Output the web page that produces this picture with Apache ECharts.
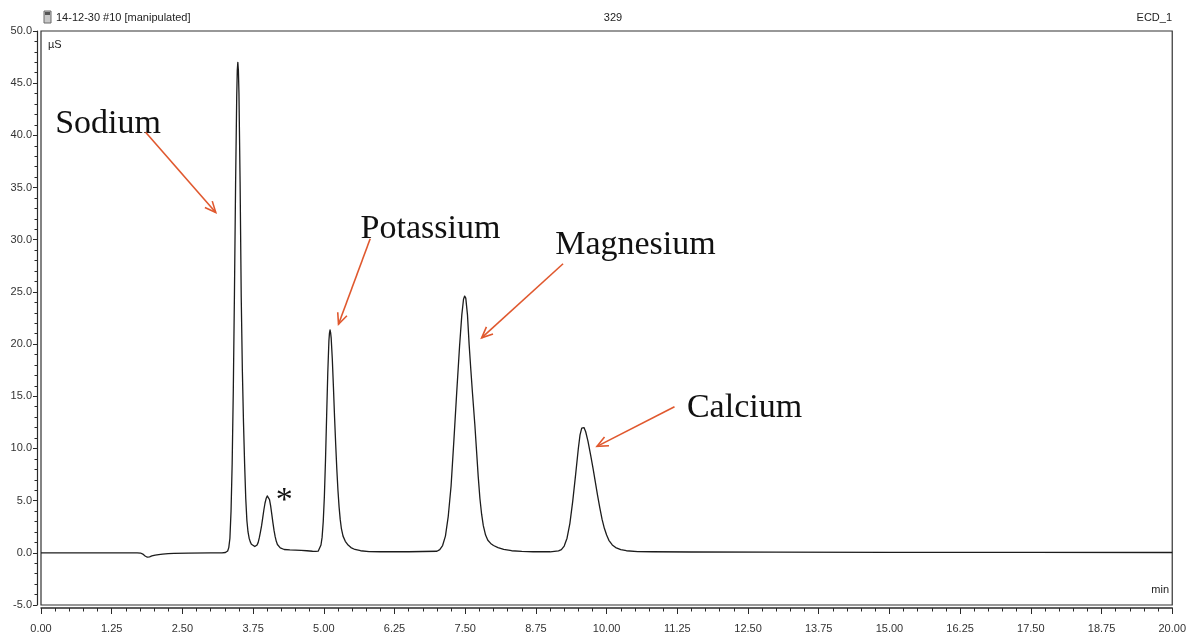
<!DOCTYPE html>
<html>
<head>
<meta charset="utf-8">
<title>14-12-30 #10 ECD_1</title>
<script src="https://cdn.jsdelivr.net/npm/echarts@6/dist/echarts.min.js"></script>
<style>
  html, body { margin: 0; padding: 0; background: #fff; }
  #chart { width: 1189px; height: 634px; }
</style>
</head>
<body>
<div id="chart"></div>
<script>
// Conductivity trace (time in min, signal in µS), split by region of the run
const baselineStart = [
  [0.00, 0.00], [1.70, 0.00], [1.76, -0.02], [1.80, -0.12], [1.84, -0.30], [1.88, -0.42],
  [1.92, -0.38], [1.96, -0.30], [2.02, -0.22], [2.08, -0.18], [2.15, -0.13], [2.25, -0.08],
  [2.35, -0.05], [2.60, -0.03], [3.00, 0.00], [3.20, 0.00]
];
const sodiumPeak = [
  [3.26, 0.03], [3.28, 0.08], [3.30, 0.18], [3.32, 0.5], [3.34, 1.4], [3.36, 4.0],
  [3.38, 8.6], [3.40, 15.6], [3.42, 24.8], [3.44, 35.2], [3.46, 43.6], [3.47, 46.2],
  [3.48, 47.0], [3.49, 46.2], [3.50, 44.0], [3.52, 35.5], [3.54, 24.5], [3.56, 17.5],
  [3.58, 12.5], [3.60, 8.5], [3.62, 5.2], [3.64, 3.1], [3.66, 2.0], [3.68, 1.4],
  [3.70, 1.05], [3.72, 0.82], [3.75, 0.66], [3.78, 0.60]
];
const unknownPeak = [
  [3.80, 0.60], [3.82, 0.75], [3.84, 1.0], [3.86, 1.45], [3.88, 2.0], [3.90, 2.6],
  [3.92, 3.35], [3.94, 4.1], [3.96, 4.75], [3.98, 5.2], [4.00, 5.45], [4.02, 5.4],
  [4.04, 5.1], [4.06, 4.5], [4.08, 3.7], [4.10, 2.9], [4.12, 2.15], [4.14, 1.55],
  [4.16, 1.1], [4.18, 0.8], [4.20, 0.62], [4.23, 0.48], [4.26, 0.38], [4.30, 0.32],
  [4.40, 0.28], [4.50, 0.26], [4.60, 0.24], [4.70, 0.20], [4.80, 0.15], [4.86, 0.13]
];
const potassiumPeak = [
  [4.90, 0.16], [4.93, 0.35], [4.95, 0.75], [4.97, 1.5], [4.99, 3.0], [5.01, 5.4],
  [5.03, 8.9], [5.05, 13.1], [5.07, 17.2], [5.09, 20.3], [5.10, 21.05], [5.11, 21.35],
  [5.12, 21.1], [5.13, 20.6], [5.15, 18.6], [5.17, 15.9], [5.19, 13.0], [5.21, 10.4],
  [5.23, 8.0], [5.25, 6.0], [5.27, 4.4], [5.29, 3.2], [5.31, 2.35], [5.34, 1.6],
  [5.38, 1.1], [5.42, 0.8], [5.48, 0.5], [5.55, 0.32], [5.65, 0.2], [5.80, 0.12],
  [6.00, 0.10]
];
const magnesiumPeak = [
  [6.50, 0.10], [7.00, 0.15], [7.05, 0.3], [7.10, 0.7], [7.15, 1.6], [7.20, 3.5],
  [7.25, 6.4], [7.30, 10.8], [7.35, 15.4], [7.40, 19.8], [7.44, 22.8], [7.47, 24.3],
  [7.49, 24.6], [7.51, 24.4], [7.54, 22.8], [7.57, 19.9], [7.60, 17.5], [7.63, 15.2],
  [7.67, 12.3], [7.70, 9.8], [7.73, 7.3], [7.76, 5.2], [7.79, 3.7], [7.82, 2.6],
  [7.86, 1.7], [7.90, 1.2], [7.95, 0.9], [8.00, 0.7], [8.08, 0.5], [8.18, 0.33],
  [8.32, 0.2], [8.50, 0.13], [8.70, 0.10]
];
const calciumPeak = [
  [9.00, 0.10], [9.15, 0.18], [9.20, 0.3], [9.25, 0.65], [9.30, 1.4], [9.35, 2.8],
  [9.40, 4.9], [9.45, 7.4], [9.50, 10.0], [9.53, 11.3], [9.56, 11.95], [9.58, 12.1],
  [9.60, 12.0], [9.63, 11.6], [9.67, 10.7], [9.72, 9.3], [9.76, 8.1], [9.80, 6.8],
  [9.84, 5.5], [9.88, 4.3], [9.92, 3.2], [9.96, 2.35], [10.00, 1.7], [10.04, 1.2],
  [10.10, 0.75], [10.16, 0.5], [10.25, 0.3], [10.35, 0.2], [10.55, 0.12], [10.80, 0.10]
];
const baselineEnd = [
  [11.50, 0.08], [13.00, 0.06], [15.00, 0.05], [17.50, 0.04], [20.00, 0.03]
];

// Peak annotations: label anchor, arrow tail and arrow head (min, µS)
const peakLabels = [
  { text: 'Sodium',    at: [0.25, 41.1],  tail: [1.85, 40.3],  head: [3.09, 32.6] },
  { text: 'Potassium', at: [5.65, 31.0],  tail: [5.82, 30.1],  head: [5.26, 21.9] },
  { text: 'Magnesium', at: [9.09, 29.5],  tail: [9.23, 27.7],  head: [7.79, 20.6] },
  { text: 'Calcium',   at: [11.42, 13.9], tail: [11.20, 14.0], head: [9.83, 10.2] }
];
const unknownMark = { text: '*', at: [4.30, 4.95] };

const xTicks = { min: 0, max: 20, interval: 1.25 };
const yTicks = { min: -5, max: 50, interval: 5 };

const trace = [].concat(baselineStart, sodiumPeak, unknownPeak, potassiumPeak,
                        magnesiumPeak, calciumPeak, baselineEnd);

const chart = echarts.init(document.getElementById('chart'), null, { renderer: 'canvas' });
const axisFont = { fontFamily: 'Liberation Sans, Arial, sans-serif', fontSize: 11, color: '#333' };
const ink = '#2a2a2a';

chart.setOption({
  animation: false,
  backgroundColor: '#ffffff',
  grid: {
    left: 41, right: 14, top: 31, bottom: 29,
    show: true, borderColor: '#333', borderWidth: 1.2, backgroundColor: 'transparent'
  },
  xAxis: {
    type: 'value',
    min: xTicks.min, max: xTicks.max, interval: xTicks.interval,
    offset: 3,
    axisLine: { show: true, onZero: false, lineStyle: { color: ink, width: 1.5 } },
    axisTick: { show: true, length: 6, lineStyle: { color: ink } },
    minorTick: { show: true, splitNumber: 5, length: 3.5, lineStyle: { color: ink } },
    splitLine: { show: false },
    axisLabel: Object.assign({ margin: 15, formatter: v => v.toFixed(2) }, axisFont)
  },
  yAxis: {
    type: 'value',
    min: yTicks.min, max: yTicks.max, interval: yTicks.interval,
    offset: 4,
    axisLine: { show: true, onZero: false, lineStyle: { color: ink, width: 1.2 } },
    axisTick: { show: true, length: 4, lineStyle: { color: ink } },
    minorTick: { show: true, splitNumber: 5, length: 2.5, lineStyle: { color: ink } },
    splitLine: { show: false },
    axisLabel: Object.assign({ margin: 5, formatter: v => v.toFixed(1) }, axisFont)
  },
  series: [{
    type: 'line',
    data: trace,
    showSymbol: false,
    smooth: false,
    lineStyle: { color: '#1c1c1c', width: 1.3, join: 'round' },
    z: 3
  }]
});

// Annotations placed in data space, converted to pixels through the axes
const toPx = p => chart.convertToPixel({ gridIndex: 0 }, p);
const arrowColor = '#e0582e';
const graphics = [];

peakLabels.forEach(lbl => {
  const a = toPx(lbl.at);
  graphics.push({
    type: 'text', x: a[0], y: a[1], z: 10,
    style: {
      text: lbl.text, fill: '#111',
      font: '34px "Liberation Serif", "Times New Roman", serif',
      textAlign: 'left', textVerticalAlign: 'middle'
    }
  });
  const t = toPx(lbl.tail), h = toPx(lbl.head);
  const ang = Math.atan2(h[1] - t[1], h[0] - t[0]);
  const wing = 12, spread = 0.42;
  const w1 = [h[0] - wing * Math.cos(ang - spread), h[1] - wing * Math.sin(ang - spread)];
  const w2 = [h[0] - wing * Math.cos(ang + spread), h[1] - wing * Math.sin(ang + spread)];
  graphics.push({
    type: 'polyline', z: 10,
    shape: { points: [t, h] },
    style: { stroke: arrowColor, lineWidth: 1.6, fill: null }
  });
  graphics.push({
    type: 'polyline', z: 10,
    shape: { points: [w1, h, w2] },
    style: { stroke: arrowColor, lineWidth: 1.6, fill: null }
  });
});

const u = toPx(unknownMark.at);
graphics.push({
  type: 'text', x: u[0], y: u[1], z: 10,
  style: {
    text: unknownMark.text, fill: '#111',
    font: '34px "Liberation Serif", "Times New Roman", serif',
    textAlign: 'center', textVerticalAlign: 'middle'
  }
});

// Header line, unit labels and file icon
const smallFont = '11px "Liberation Sans", Arial, sans-serif';
graphics.push(
  { type: 'rect', shape: { x: 44, y: 11, width: 7, height: 12 },
    style: { fill: '#c8c8c8', stroke: '#6a6a6a', lineWidth: 1 } },
  { type: 'rect', shape: { x: 45, y: 12, width: 5, height: 3 },
    style: { fill: '#555' } },
  { type: 'text', x: 56, y: 18,
    style: { text: '14-12-30 #10 [manipulated]', fill: '#222', font: smallFont, textVerticalAlign: 'middle' } },
  { type: 'text', x: 613, y: 18,
    style: { text: '329', fill: '#222', font: smallFont, textAlign: 'center', textVerticalAlign: 'middle' } },
  { type: 'text', x: 1172, y: 18,
    style: { text: 'ECD_1', fill: '#222', font: smallFont, textAlign: 'right', textVerticalAlign: 'middle' } },
  { type: 'text', x: 48, y: 45,
    style: { text: 'µS', fill: '#222', font: smallFont, textVerticalAlign: 'middle' } },
  { type: 'text', x: 1169, y: 590,
    style: { text: 'min', fill: '#222', font: smallFont, textAlign: 'right', textVerticalAlign: 'middle' } }
);

chart.setOption({ graphic: graphics });
</script>
</body>
</html>
